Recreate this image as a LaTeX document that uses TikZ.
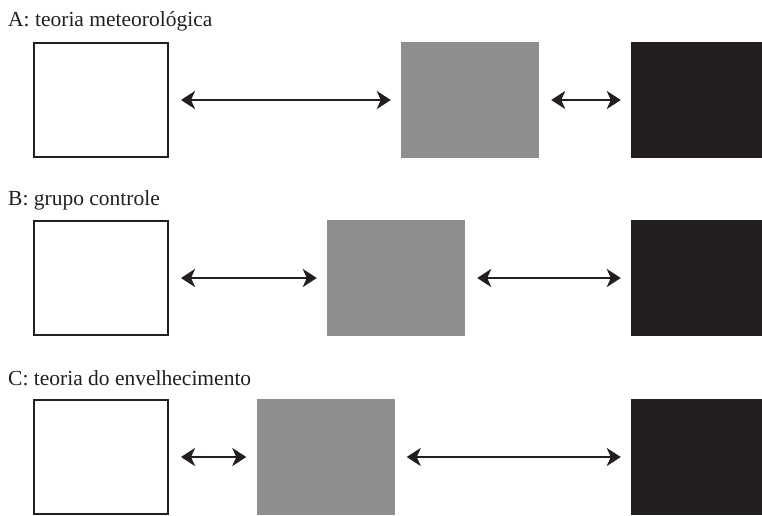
\documentclass[tikz,border=0pt]{standalone}
\usepackage{fontspec}
\setmainfont{Liberation Serif}
\usetikzlibrary{arrows.meta}
\definecolor{Grey}{RGB}{143,141,142}
\definecolor{NearBlack}{RGB}{35,31,32}
\tikzstyle{hollow} = [rectangle, draw=NearBlack, line width=2pt, fill=white, minimum width=134pt, minimum height=114pt, inner sep=0pt]
\tikzstyle{middle} = [rectangle, fill=Grey, minimum width=138pt, minimum height=116pt, inner sep=0pt]
\tikzstyle{dark}   = [rectangle, fill=NearBlack, minimum width=138pt, minimum height=116pt, inner sep=0pt]
\tikzstyle{line}   = [draw=NearBlack, line width=2.6pt, {Stealth[length=14pt,width=18pt,inset=4pt]}-{Stealth[length=14pt,width=18pt,inset=4pt]}, shorten <=12pt, shorten >=10pt]
\tikzstyle{caption} = [anchor=base west, inner sep=0pt, font=\fontsize{21.5}{24}\selectfont, text=NearBlack]

\begin{document}
\begin{tikzpicture}[x=1pt, y=-1pt]
    \useasboundingbox (0,0) rectangle (762,515);

    % A: teoria meteorologica
    \node (labA)  [caption] at (8,26) {A: teoria meteorológica};
    \node (whiteA) [hollow] at (101,100) {};
    \node (greyA)  [middle] at (470,100) {};
    \node (blackA) [dark]   at (700,100) {};
    \path [line] (whiteA) -- (greyA);
    \path [line] (greyA)  -- (blackA);

    % B: grupo controle
    \node (labB)  [caption] at (8,205) {B: grupo controle};
    \node (whiteB) [hollow] at (101,278) {};
    \node (greyB)  [middle] at (396,278) {};
    \node (blackB) [dark]   at (700,278) {};
    \path [line] (whiteB) -- (greyB);
    \path [line] (greyB)  -- (blackB);

    % C: teoria do envelhecimento
    \node (labC)  [caption] at (8,385) {C: teoria do envelhecimento};
    \node (whiteC) [hollow] at (101,457) {};
    \node (greyC)  [middle] at (325.5,457) {};
    \node (blackC) [dark]   at (700,457) {};
    \path [line] (whiteC) -- (greyC);
    \path [line] (greyC)  -- (blackC);
\end{tikzpicture}
\end{document}
